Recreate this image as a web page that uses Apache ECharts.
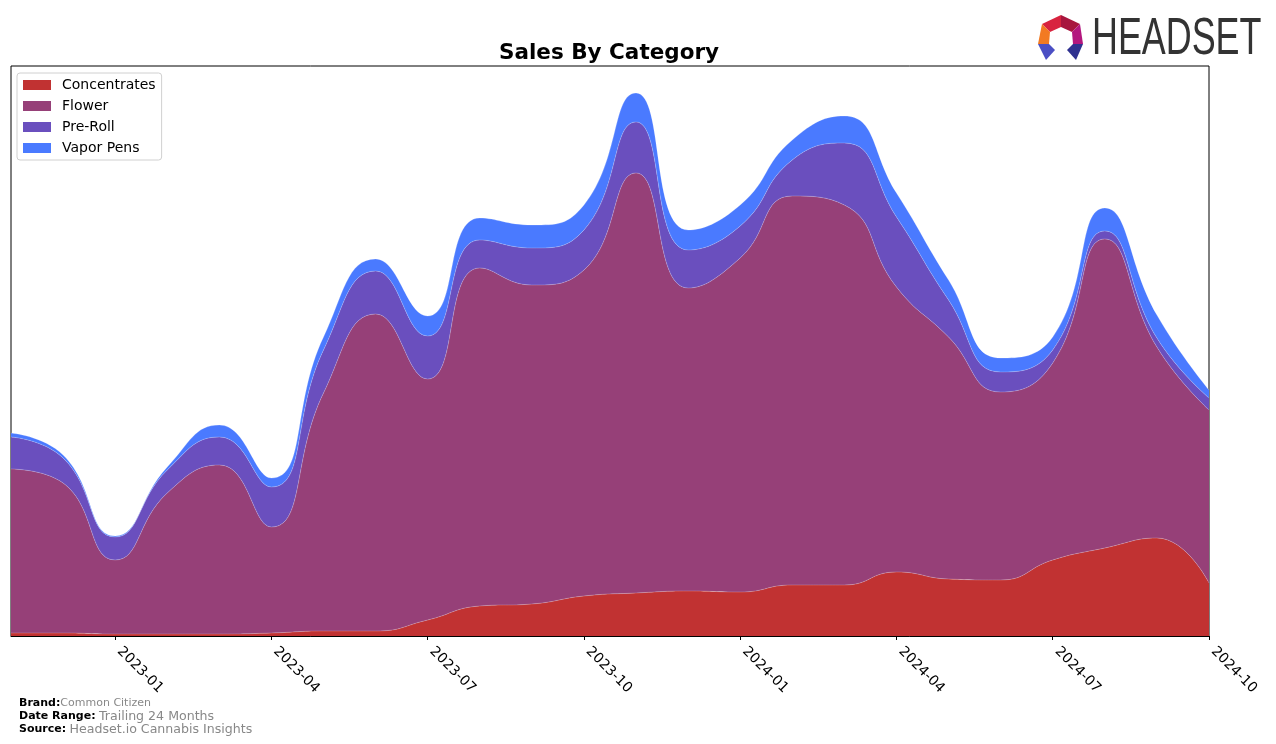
<!DOCTYPE html>
<html>
<head>
<meta charset="utf-8">
<script src="https://cdn.jsdelivr.net/npm/echarts@6/dist/echarts.min.js"></script>
<style>
html,body{margin:0;padding:0;background:#fff;}
#chart{width:1276px;height:744px;}
</style>
</head>
<body>
<div id="chart"></div>
<script>
const months = ["2022-11","2022-12","2023-01","2023-02","2023-03","2023-04","2023-05","2023-06","2023-07","2023-08","2023-09","2023-10","2023-11","2023-12","2024-01","2024-02","2024-03","2024-04","2024-05","2024-06","2024-07","2024-08","2024-09","2024-10"];
const concentrates = [3,3,2,2,2,3,5,5,16,30,32,40,43,45,44,51,51,64,57,56,76,88,98,53];
const flower = [164,150,74,141,169,106,238,317,241,338,319,326,420,303,334,389,380,285,242,188,197,309,191,173];
const preRoll = [32,25,23,23,28,40,43,43,43,28,37,40,51,38,32,36,62,70,37,20,13,8,9,12];
const vaporPens = [4,3,1,3,12,9,13,12,20,22,23,25,29,20,21,20,27,24,20,14,13,23,23,8];
const tickMonths = ["2023-01","2023-04","2023-07","2023-10","2024-01","2024-04","2024-07","2024-10"];
const seriesNames = ["Concentrates","Flower","Pre-Roll","Vapor Pens"];
const seriesColors = ["#C13232","#964078","#6A4FBE","#4A7AFF"];
const seriesData = [concentrates, flower, preRoll, vaporPens];

const chart = echarts.init(document.getElementById('chart'), null, {renderer:'canvas'});
const isTick = (i) => tickMonths.indexOf(months[i]) >= 0;

const option = {
  animation: false,
  backgroundColor: '#fff',
  title: {
    text: 'Sales By Category',
    left: 604, top: 37, textAlign: 'center',
    textStyle: {fontFamily: 'DejaVu Sans', fontWeight: 'bold', fontSize: 21.5, color: '#000'}
  },
  legend: {
    left: 17, top: 73, orient: 'vertical',
    itemWidth: 28, itemHeight: 10, itemGap: 7,
    icon: 'rect',
    backgroundColor: '#fff', borderColor: '#d0d0d0', borderWidth: 1, borderRadius: 3,
    padding: [5, 6, 5, 6],
    textStyle: {fontFamily: 'DejaVu Sans', fontSize: 14, color: '#000', padding: [0, 0, 0, 6]},
    data: seriesNames
  },
  grid: {left: 11, right: 67, top: 66, bottom: 108, show: true, borderColor: '#000', borderWidth: 1, backgroundColor: 'transparent'},
  xAxis: {
    type: 'category', data: months, boundaryGap: false,
    axisLine: {show: true, lineStyle: {color: '#000', width: 1}},
    axisTick: {show: true, length: 4, interval: (i) => isTick(i), lineStyle: {color: '#000'}},
    axisLabel: {interval: (i) => isTick(i), rotate: -45, margin: 9, padding: [0, 0, 0, 6], fontFamily: 'DejaVu Sans', fontSize: 14, color: '#000'},
    splitLine: {show: false}
  },
  yAxis: {type: 'value', min: 0, max: 570, show: false, splitLine: {show: false}},
  series: seriesNames.map((n, k) => ({
    name: n, type: 'line', stack: 'total', smooth: 0.5, symbol: 'none',
    data: seriesData[k],
    itemStyle: {color: seriesColors[k]},
    lineStyle: {width: 0.6, color: 'rgba(255,255,255,0.35)'},
    areaStyle: {color: seriesColors[k], opacity: 1}
  })),
  graphic: [
    {type: 'text', left: 19, top: 698, style: {rich: {b: {fontFamily: 'DejaVu Sans', fontWeight: 'bold', fontSize: 11, fill: '#000'}, g: {fontFamily: 'DejaVu Sans', fontSize: 11, fill: '#888'}}, text: '{b|Brand:}{g|Common Citizen}'}},
    {type: 'text', left: 19, top: 710, style: {rich: {b: {fontFamily: 'DejaVu Sans', fontWeight: 'bold', fontSize: 11, fill: '#000'}, g: {fontFamily: 'DejaVu Sans', fontSize: 12.6, fill: '#888'}}, text: '{b|Date Range:} {g|Trailing 24 Months}'}},
    {type: 'text', left: 19, top: 723, style: {rich: {b: {fontFamily: 'DejaVu Sans', fontWeight: 'bold', fontSize: 11, fill: '#000'}, g: {fontFamily: 'DejaVu Sans', fontSize: 12.6, fill: '#888'}}, text: '{b|Source:} {g|Headset.io Cannabis Insights}'}},
    {type: 'text', x: 1092, y: 14, scaleX: 0.69, style: {text: 'HEADSET', fontFamily: 'Liberation Sans', fontSize: 52, fill: '#333'}},
    {type: 'polygon', shape: {points: [[1042,24],[1061,15],[1061,27],[1050,32]]}, style: {fill: '#D8233F'}},
    {type: 'polygon', shape: {points: [[1061,15],[1080,24],[1072,32],[1061,27]]}, style: {fill: '#A8163E'}},
    {type: 'polygon', shape: {points: [[1042,24],[1050,32],[1049,44],[1038,44]]}, style: {fill: '#F27A22'}},
    {type: 'polygon', shape: {points: [[1080,24],[1083,44],[1073,44],[1072,32]]}, style: {fill: '#B3177E'}},
    {type: 'polygon', shape: {points: [[1038,44],[1049,44],[1055,50],[1046,60]]}, style: {fill: '#4B4FC4'}},
    {type: 'polygon', shape: {points: [[1083,44],[1073,44],[1067,50],[1076,60]]}, style: {fill: '#2F3190'}}
  ]
};
chart.setOption(option);
</script>
</body>
</html>
